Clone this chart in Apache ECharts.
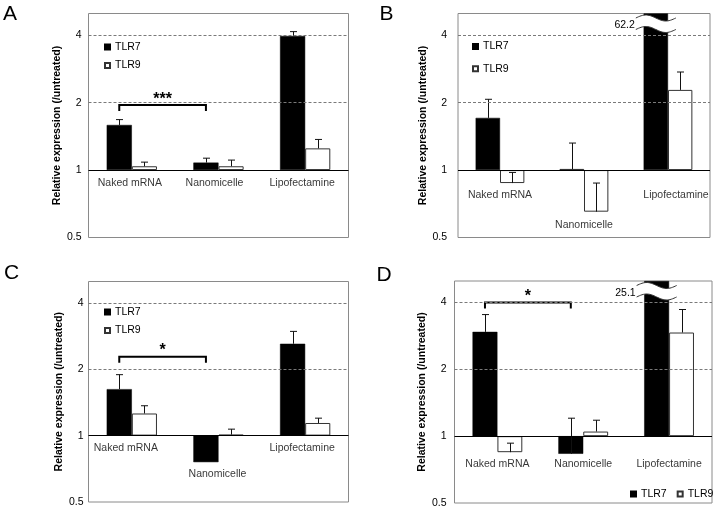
<!DOCTYPE html>
<html><head><meta charset="utf-8">
<script src="https://cdn.jsdelivr.net/npm/echarts@6/dist/echarts.min.js"></script>
<style>html,body{margin:0;padding:0;background:#fff}#c{width:716px;height:512px}</style>
</head><body><div id="c"></div>
<script>
// ---------- data ----------
const CATEGORIES = ['Naked mRNA', 'Nanomicelle', 'Lipofectamine'];
const SERIES_NAMES = ['TLR7', 'TLR9'];
const Y_TICKS = [0.5, 1, 2, 4];
const Y_MAX = 5;
const PANEL_LETTERS = ['A', 'B', 'C', 'D'];
const Y_TITLE = 'Relative expression (/untreated)';

const A_TLR7 = [1.59, 1.08, 3.97];
const A_TLR7_ERR_TOP = [1.68, 1.13, 4.15];
const A_TLR9 = [1.04, 1.04, 1.25];
const A_TLR9_ERR_TOP = [1.085, 1.108, 1.37];

const B_TLR7 = [1.71, 1.01, 62.2];
const B_TLR7_ERR_TOP = [2.07, 1.32, null];
const B_TLR9 = [0.875, 0.652, 2.28];
const B_TLR9_ERR_TOP = [0.976, 0.875, 2.74];

const C_TLR7 = [1.625, 0.758, 2.61];
const C_TLR7_ERR_TOP = [1.89, null, 2.97];
const C_TLR9 = [1.26, 1.01, 1.141];
const C_TLR9_ERR_TOP = [1.366, 1.07, 1.2];

const D_TLR7 = [2.95, 0.833, 25.1];
const D_TLR7_ERR_TOP = [3.53, 1.205, null];
const D_TLR9 = [0.847, 1.049, 2.93];
const D_TLR9_ERR_TOP = [0.93, 1.18, 3.72];

// significance: [fromCategory, toCategory, bracket level, mark]
const A_SIG = [0, 1, 1.95, '***'];
const B_SIG = null;
const C_SIG = [0, 1, 2.28, '*'];
const D_SIG = [0, 1, 4, '*'];

// ---------- layout (pixels) ----------
const LAYOUT = [
  {grid:{left:88.5, top:13.5, width:260, height:224}, letter:[3,4], labelMargin:7, nameGap:14,
   legend:{left:104, top:41.5, orient:'vertical', itemGap:7.6}, catDrop:[13.4,13.4,13.4], catDx:[-2,-4,-3]},
  {grid:{left:458, top:13.5, width:252, height:224}, letter:[379.5,4], labelMargin:11, nameGap:19,
   legend:{left:472, top:41, orient:'vertical', itemGap:11.2}, catDrop:[24.7,54.7,24.7], catDx:[0,0,8]},
  {grid:{left:88.5, top:281.5, width:260, height:220.5}, letter:[4,263], labelMargin:5, nameGap:16,
   legend:{left:104, top:306.5, orient:'vertical', itemGap:7.6}, catDrop:[12.7,38.3,12.7], catDx:[-6,-1,-3]},
  {grid:{left:454.5, top:281, width:257.5, height:222}, letter:[376.5,265], labelMargin:8, nameGap:13,
   legend:{left:630, top:488.5, orient:'horizontal', itemGap:10}, catDrop:[27.6,27.6,27.6], catDx:[0,0,0]}
];

const PANELS = [
  {tlr7:A_TLR7, tlr7Err:A_TLR7_ERR_TOP, tlr9:A_TLR9, tlr9Err:A_TLR9_ERR_TOP, sig:A_SIG},
  {tlr7:B_TLR7, tlr7Err:B_TLR7_ERR_TOP, tlr9:B_TLR9, tlr9Err:B_TLR9_ERR_TOP, sig:B_SIG},
  {tlr7:C_TLR7, tlr7Err:C_TLR7_ERR_TOP, tlr9:C_TLR9, tlr9Err:C_TLR9_ERR_TOP, sig:C_SIG},
  {tlr7:D_TLR7, tlr7Err:D_TLR7_ERR_TOP, tlr9:D_TLR9, tlr9Err:D_TLR9_ERR_TOP, sig:D_SIG}
];

const FONT = "'Liberation Sans', Arial, sans-serif";
const BAR_FRAC = 0.29;
const log2 = v => Math.log(v) / Math.LN2;
const YMIN = log2(Y_TICKS[0]);
const YMAX = log2(Y_MAX);

function bandWidth(api) { return api.coord([1, 0])[0] - api.coord([0, 0])[0]; }

function errRenderer(sign) {
  return function (params, api) {
    const cat = api.value(0), v = api.value(1), t = api.value(2);
    const bw = bandWidth(api) * BAR_FRAC;
    const p0 = api.coord([cat, v]), p1 = api.coord([cat, t]);
    const x = Math.round(p0[0] + sign * bw / 2) + 0.5;
    const st = {stroke:'#111', lineWidth:1};
    return {type:'group', children:[
      {type:'line', shape:{x1:x, y1:p0[1], x2:x, y2:p1[1]}, style:st},
      {type:'line', shape:{x1:x - 3.5, y1:p1[1], x2:x + 3.5, y2:p1[1]}, style:st}
    ]};
  };
}

function breakRender(params, api) {
  const cat = api.value(0), actual = api.value(2);
  const bw = bandWidth(api) * BAR_FRAC;
  const cx = api.coord([cat, 0])[0] - bw / 2;
  const top = api.coord([cat, YMAX])[1];
  const half = 20, amp = 3, y1 = top + 4.5, y2 = top + 16;
  const upper = [], lower = [];
  for (let i = 0; i <= 30; i++) {
    const t = i / 30, x = cx - half + 2 * half * t, dy = -amp * Math.sin(2 * Math.PI * t);
    upper.push([x, y1 + dy]); lower.push([x, y2 + dy]);
  }
  return {type:'group', children:[
    {type:'polygon', shape:{points:upper.concat(lower.slice().reverse())}, style:{fill:'#fff'}},
    {type:'polyline', shape:{points:upper}, style:{stroke:'#333', lineWidth:1, fill:null}},
    {type:'polyline', shape:{points:lower}, style:{stroke:'#333', lineWidth:1, fill:null}},
    {type:'text', style:{text:String(actual), x:cx - half - 1, y:(y1 + y2) / 2 + 1.5, align:'right',
      verticalAlign:'middle', fill:'#000', fontSize:10.5, fontFamily:FONT}}
  ]};
}

function sigRenderer(mark) {
  return function (params, api) {
    const from = api.value(0), to = api.value(1), lvl = api.value(2);
    const bw = bandWidth(api) * BAR_FRAC;
    const x1 = api.coord([from, lvl])[0] - bw / 2, x2 = api.coord([to, lvl])[0] - bw / 2;
    const y = api.coord([from, lvl])[1];
    return {type:'group', children:[
      {type:'polyline', shape:{points:[[x1, y + 6], [x1, y], [x2, y], [x2, y + 6]]},
        style:{stroke:'#000', lineWidth:2, fill:null}},
      {type:'text', style:{text:mark, x:(x1 + x2) / 2, y:y - 6, align:'center', verticalAlign:'middle',
        fill:'#000', fontSize:16, fontWeight:'bold', fontFamily:FONT}}
    ]};
  };
}

const grids = [], xAxes = [], yAxes = [], series = [], legends = [], graphics = [];

PANELS.forEach((P, i) => {
  const L = LAYOUT[i];
  grids.push(Object.assign({show:true, borderColor:'#8a8a8a', borderWidth:1, backgroundColor:'transparent'}, L.grid));
  xAxes.push({type:'category', gridIndex:i, data:CATEGORIES, show:false});
  yAxes.push({
    type:'value', gridIndex:i, min:YMIN, max:YMAX, interval:1,
    splitLine:{show:false}, axisLine:{show:false}, axisTick:{show:false},
    axisLabel:{margin:L.labelMargin, color:'#000', fontSize:10.5, fontFamily:FONT,
      formatter: v => { const r = Math.round(v); if (Math.abs(v - r) > 1e-6) return '';
        const val = Math.pow(2, r); return Y_TICKS.indexOf(val) >= 0 ? String(val) : ''; }},
    name:Y_TITLE, nameLocation:'middle', nameRotate:90, nameGap:L.nameGap,
    nameTextStyle:{fontWeight:'bold', fontSize:10.5, color:'#000', fontFamily:FONT}
  });

  // category labels + gridlines
  series.push({
    type:'scatter', xAxisIndex:i, yAxisIndex:i, silent:true, z:1, symbolSize:1,
    itemStyle:{color:'rgba(0,0,0,0)'},
    data: CATEGORIES.map((c, k) => ({value:[k, 0], label:{offset:[L.catDx[k], L.catDrop[k]]}})),
    label:{show:true, position:'inside', color:'#000', fontSize:10.5, fontFamily:FONT,
      formatter: p => CATEGORIES[p.dataIndex]},
    markLine:{silent:true, symbol:['none','none'], label:{show:false}, animation:false,
      data: Y_TICKS.filter(v => v > Y_TICKS[0]).map(v => ({yAxis:log2(v),
        lineStyle: v === 1 ? {type:'solid', color:'#000', width:1} : {type:[3,2], color:'#7a7a7a', width:1}}))}
  });

  const clip = v => Math.min(log2(v), YMAX);
  series.push({name:SERIES_NAMES[0], type:'bar', xAxisIndex:i, yAxisIndex:i, z:2,
    barWidth:(BAR_FRAC * 100) + '%', barGap:'0%',
    itemStyle:{color:'#000', borderColor:'#000', borderWidth:0.5},
    data:P.tlr7.map(clip)});
  series.push({name:SERIES_NAMES[1], type:'bar', xAxisIndex:i, yAxisIndex:i, z:2,
    barWidth:(BAR_FRAC * 100) + '%', barGap:'0%',
    itemStyle:{color:'#fff', borderColor:'#333', borderWidth:1},
    data:P.tlr9.map(clip)});

  [[P.tlr7, P.tlr7Err, -1], [P.tlr9, P.tlr9Err, 1]].forEach(([vals, errs, sign]) => {
    const d = [];
    vals.forEach((v, k) => { if (errs[k] != null) d.push([k, log2(v), log2(errs[k])]); });
    series.push({type:'custom', xAxisIndex:i, yAxisIndex:i, z:3, silent:true,
      encode:{x:0, y:[1, 2]}, renderItem:errRenderer(sign), data:d});
  });

  const brk = [];
  P.tlr7.forEach((v, k) => { if (v > Y_MAX) brk.push([k, log2(v), v]); });
  if (brk.length) series.push({type:'custom', xAxisIndex:i, yAxisIndex:i, z:4, silent:true,
    encode:{x:0, y:1}, renderItem:breakRender, data:brk, clip:false});

  if (P.sig) series.push({type:'custom', xAxisIndex:i, yAxisIndex:i, z:4, silent:true,
    encode:{x:[0, 1], y:2}, renderItem:sigRenderer(P.sig[3]),
    data:[[P.sig[0], P.sig[1], log2(P.sig[2])]]});

  legends.push({data:SERIES_NAMES, left:L.legend.left, top:L.legend.top, orient:L.legend.orient,
    itemGap:L.legend.itemGap, itemWidth:5, itemHeight:5, icon:'rect', padding:0, selectedMode:false,
    textStyle:{fontSize:10.5, color:'#000', fontFamily:FONT}});

  graphics.push({type:'text', left:L.letter[0], top:L.letter[1],
    style:{text:PANEL_LETTERS[i], fontSize:21, fontFamily:FONT, fill:'#000'}});
});

const chart = echarts.init(document.getElementById('c'), null, {renderer:'canvas'});
chart.setOption({
  animation:false,
  textStyle:{fontFamily:FONT},
  grid:grids, xAxis:xAxes, yAxis:yAxes, series:series, legend:legends, graphic:graphics
});
</script>
</body></html>
